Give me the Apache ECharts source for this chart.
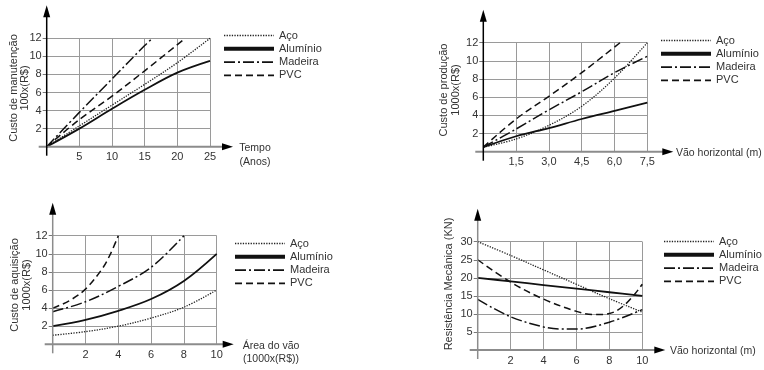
<!DOCTYPE html>
<html><head><meta charset="utf-8">
<script src="https://cdn.jsdelivr.net/npm/echarts@6/dist/echarts.min.js"></script>
<style>html,body{margin:0;padding:0;background:#fff;}#c{width:764px;height:370px;}</style>
</head><body><div id="c"></div>
<script>
// ---------------- DATA ----------------
const seriesNames = ['Aço', 'Alumínio', 'Madeira', 'PVC'];

// Panel 1 – Custo de manutenção vs Tempo
const p1XTickValues = [5, 10, 15, 20, 25];
const p1XTickLabels = ['5', '10', '15', '20', '25'];
const p1YTickValues = [2, 4, 6, 8, 10, 12];
const p1YTickLabels = ['2', '4', '6', '8', '10', '12'];
const p1AcoX = [0, 5, 10, 15, 20, 25];
const p1AcoY = [0, 2.3, 4.6, 6.9, 9.3, 12];
const p1AluX = [0, 5, 10, 15, 20, 25];
const p1AluY = [0, 2.0, 4.2, 6.3, 8.2, 9.5];
const p1MadX = [0, 5, 10, 15, 16.2];
const p1MadY = [0, 3.8, 7.5, 11.2, 12];
const p1PvcX = [0, 5, 10, 15, 21.2];
const p1PvcY = [0, 3.0, 5.6, 8.4, 12];

// Panel 2 – Custo de produção vs Vão horizontal
const p2XTickValues = [1.5, 3, 4.5, 6, 7.5];
const p2XTickLabels = ['1,5', '3,0', '4,5', '6,0', '7,5'];
const p2YTickValues = [2, 4, 6, 8, 10, 12];
const p2YTickLabels = ['2', '4', '6', '8', '10', '12'];
const p2AcoX = [0, 1.5, 3, 4.5, 6, 7.5];
const p2AcoY = [0.5, 1.4, 2.9, 5.0, 8.1, 12];
const p2AluX = [0, 1.5, 3, 4.5, 6, 7.5];
const p2AluY = [0.5, 1.7, 2.6, 3.6, 4.5, 5.4];
const p2MadX = [0, 1.5, 3, 4.5, 6, 7.5];
const p2MadY = [0.5, 2.5, 4.6, 6.6, 8.7, 10.5];
const p2PvcX = [0, 1.5, 3, 4.5, 6.25];
const p2PvcY = [0.5, 3.6, 6.1, 8.7, 12];

// Panel 3 – Custo de aquisição vs Área do vão
const p3XTickValues = [2, 4, 6, 8, 10];
const p3XTickLabels = ['2', '4', '6', '8', '10'];
const p3YTickValues = [2, 4, 6, 8, 10, 12];
const p3YTickLabels = ['2', '4', '6', '8', '10', '12'];
const p3AcoX = [0, 2, 4, 6, 8, 10];
const p3AcoY = [1.0, 1.4, 2.0, 2.9, 4.1, 6.0];
const p3AluX = [0, 2, 4, 6, 8, 10];
const p3AluY = [2.0, 2.7, 3.7, 5.0, 7.0, 10.0];
const p3MadX = [0, 2, 4, 6, 8];
const p3MadY = [3.6, 4.7, 6.4, 8.5, 12];
const p3PvcX = [0, 1, 2, 3, 3.5, 4];
const p3PvcY = [4.0, 4.8, 6.1, 8.3, 9.9, 12];

// Panel 4 – Resistência Mecânica vs Vão horizontal
const p4XTickValues = [2, 4, 6, 8, 10];
const p4XTickLabels = ['2', '4', '6', '8', '10'];
const p4YTickValues = [5, 10, 15, 20, 25, 30];
const p4YTickLabels = ['5', '10', '15', '20', '25', '30'];
const p4AcoX = [0, 2, 4, 6, 8, 10];
const p4AcoY = [30, 26.2, 22.2, 18.2, 14.2, 10.5];
const p4AluX = [0, 2, 4, 6, 8, 10];
const p4AluY = [20, 19, 18, 17, 16, 15];
const p4MadX = [0, 2, 4, 5, 6, 8, 10];
const p4MadY = [14, 9.2, 6.4, 5.8, 5.8, 7.7, 11.2];
const p4PvcX = [0, 2, 4, 6, 7, 8, 9, 10];
const p4PvcY = [25, 18.8, 14.1, 10.7, 9.8, 10.1, 12.8, 18.2];

// Axis titles
const p1YName = 'Custo de manutenção\n100x(R$)';
const p1XName = 'Tempo\n(Anos)';
const p2YName = 'Custo de produção\n1000x(R$)';
const p2XName = 'Vão horizontal (m)';
const p3YName = 'Custo de aquisição\n1000x(R$)';
const p3XName = 'Área do vão\n(1000x(R$))';
const p4YName = 'Resistência Mecânica (KN)';
const p4XName = 'Vão horizontal (m)';

// ---------------- LAYOUT / STYLE ----------------
const FONT = '"Liberation Sans", Arial, Helvetica, sans-serif';
const TXT = '#333';
const GRIDC = '#9a9a9a';

const panels = [
  { grid: {left: 46.7, top: 38.3, width: 163.3, height: 108.4},
    x: [0, 25, 5], y: [0, 12, 2],
    xt: [p1XTickValues, p1XTickLabels], yt: [p1YTickValues, p1YTickLabels],
    s: [[p1AcoX, p1AcoY], [p1AluX, p1AluY], [p1MadX, p1MadY], [p1PvcX, p1PvcY]],
    legend: {left: 222, top: 30},
    yAxisColor: '#000', xArrow: 23,
    yName: {text: p1YName, x: 19.5, y: 88}, xName: {text: p1XName, x: 255, y: 155, align: 'center'} },
  { grid: {left: 483.3, top: 42.7, width: 164, height: 109},
    x: [0, 7.5, 1.5], y: [0, 12, 2],
    xt: [p2XTickValues, p2XTickLabels], yt: [p2YTickValues, p2YTickLabels],
    s: [[p2AcoX, p2AcoY], [p2AluX, p2AluY], [p2MadX, p2MadY], [p2PvcX, p2PvcY]],
    legend: {left: 659, top: 35},
    yAxisColor: '#000', xArrow: 26,
    yName: {text: p2YName, x: 450, y: 90}, xName: {text: p2XName, x: 676, y: 153, align: 'left'} },
  { grid: {left: 52.7, top: 235.7, width: 164, height: 108.6},
    x: [0, 10, 2], y: [0, 12, 2],
    xt: [p3XTickValues, p3XTickLabels], yt: [p3YTickValues, p3YTickLabels],
    s: [[p3AcoX, p3AcoY], [p3AluX, p3AluY], [p3MadX, p3MadY], [p3PvcX, p3PvcY]],
    legend: {left: 233, top: 238},
    yAxisColor: '#8c8c8c', xArrow: 17,
    yName: {text: p3YName, x: 21, y: 285}, xName: {text: p3XName, x: 271, y: 352.5, align: 'center'} },
  { grid: {left: 477.7, top: 241.7, width: 164.6, height: 108.3},
    x: [0, 10, 2], y: [0, 30, 5],
    xt: [p4XTickValues, p4XTickLabels], yt: [p4YTickValues, p4YTickLabels],
    s: [[p4AcoX, p4AcoY], [p4AluX, p4AluY], [p4MadX, p4MadY], [p4PvcX, p4PvcY]],
    legend: {left: 662, top: 236},
    yAxisColor: '#8c8c8c', xArrow: 23,
    yName: {text: p4YName, x: 448.5, y: 284}, xName: {text: p4XName, x: 670, y: 351, align: 'left'} }
];

const styleFor = {
  'Aço':      {type: 'dotted', width: 1.3, color: '#222'},
  'Alumínio': {type: 'solid', width: 1.8, color: '#111'},
  'Madeira':  {type: [11, 3, 2, 3], width: 1.5, color: '#111'},
  'PVC':      {type: [7, 4], width: 1.5, color: '#111'}
};
const legendLineWidth = {'Aço': 1.3, 'Alumínio': 4, 'Madeira': 1.6, 'PVC': 1.6};

function labelFmt(t) {
  return function (v) {
    for (let i = 0; i < t[0].length; i++) if (Math.abs(t[0][i] - v) < 1e-9) return t[1][i];
    return '';
  };
}

const option = {
  animation: false,
  backgroundColor: '#fff',
  textStyle: {fontFamily: FONT},
  grid: panels.map(p => Object.assign({containLabel: false}, p.grid)),
  xAxis: panels.map((p, i) => ({
    type: 'value', gridIndex: i, min: p.x[0], max: p.x[1], interval: p.x[2],
    axisLine: {show: false}, axisTick: {show: false},
    splitLine: {show: true, lineStyle: {color: GRIDC, width: 1}},
    axisLabel: {formatter: labelFmt(p.xt), fontSize: 11, color: TXT, fontFamily: FONT, margin: 5}
  })),
  yAxis: panels.map((p, i) => ({
    type: 'value', gridIndex: i, min: p.y[0], max: p.y[1], interval: p.y[2],
    axisLine: {show: false},
    axisTick: {show: true, length: 4, lineStyle: {color: '#777', width: 1}},
    splitLine: {show: true, lineStyle: {color: GRIDC, width: 1}},
    axisLabel: {formatter: labelFmt(p.yt), fontSize: 11, color: TXT, fontFamily: FONT, margin: 5}
  })),
  legend: panels.map(p => ({
    orient: 'vertical', left: p.legend.left, top: p.legend.top,
    itemWidth: 50, itemHeight: 11, itemGap: 2.3, padding: 0,
    selectedMode: false,
    itemStyle: {color: 'rgba(0,0,0,0)', borderColor: 'rgba(0,0,0,0)', borderWidth: 0, opacity: 0},
    textStyle: {fontSize: 11, color: TXT, fontFamily: FONT},
    data: seriesNames.map(n => ({name: n, lineStyle: {width: legendLineWidth[n]}}))
  })),
  series: []
};

panels.forEach((p, i) => {
  seriesNames.forEach((n, k) => {
    const xs = p.s[k][0], ys = p.s[k][1];
    option.series.push({
      type: 'line', name: n, xAxisIndex: i, yAxisIndex: i,
      data: xs.map((x, j) => [x, ys[j]]),
      smooth: 0.35, symbol: 'none', clip: false,
      lineStyle: Object.assign({}, styleFor[n]),
      itemStyle: {color: styleFor[n].color},
      z: 5
    });
  });
});

const chart = echarts.init(document.getElementById('c'), null, {renderer: 'canvas'});
chart.setOption(option);

// axes with arrows and axis titles, placed from the axes' own pixel positions
const graphics = [];
panels.forEach((p, i) => {
  const o = chart.convertToPixel({gridIndex: i}, [p.x[0], p.y[0]]);
  const e = chart.convertToPixel({gridIndex: i}, [p.x[1], p.y[1]]);
  const ox = o[0], oy = o[1], ex = e[0], ey = e[1];
  // y axis
  const yTip = ey - 33;
  graphics.push({type: 'line', z: 10, shape: {x1: ox, y1: oy + 9, x2: ox, y2: yTip + 8},
    style: {stroke: p.yAxisColor, lineWidth: 1.5}});
  graphics.push({type: 'polygon', z: 10, shape: {points: [[ox, yTip], [ox - 3.5, yTip + 12], [ox + 3.5, yTip + 12]]},
    style: {fill: '#000'}});
  // x axis
  const xTip = ex + p.xArrow;
  graphics.push({type: 'line', z: 9, shape: {x1: ox - 8, y1: oy, x2: xTip - 8, y2: oy},
    style: {stroke: '#8c8c8c', lineWidth: 2}});
  graphics.push({type: 'polygon', z: 10, shape: {points: [[xTip, oy], [xTip - 11, oy - 3.5], [xTip - 11, oy + 3.5]]},
    style: {fill: '#000'}});
  // titles
  graphics.push({type: 'text', z: 10, x: p.yName.x, y: p.yName.y, rotation: Math.PI / 2,
    style: {text: p.yName.text, fill: TXT, font: '11px ' + FONT, align: 'center', verticalAlign: 'middle', lineHeight: 11.5}});
  graphics.push({type: 'text', z: 10, x: p.xName.x, y: p.xName.y,
    style: {text: p.xName.text, fill: TXT, font: '10.5px ' + FONT, align: p.xName.align, verticalAlign: 'middle', lineHeight: 13.3}});
});
chart.setOption({graphic: graphics});
</script>
</body></html>
